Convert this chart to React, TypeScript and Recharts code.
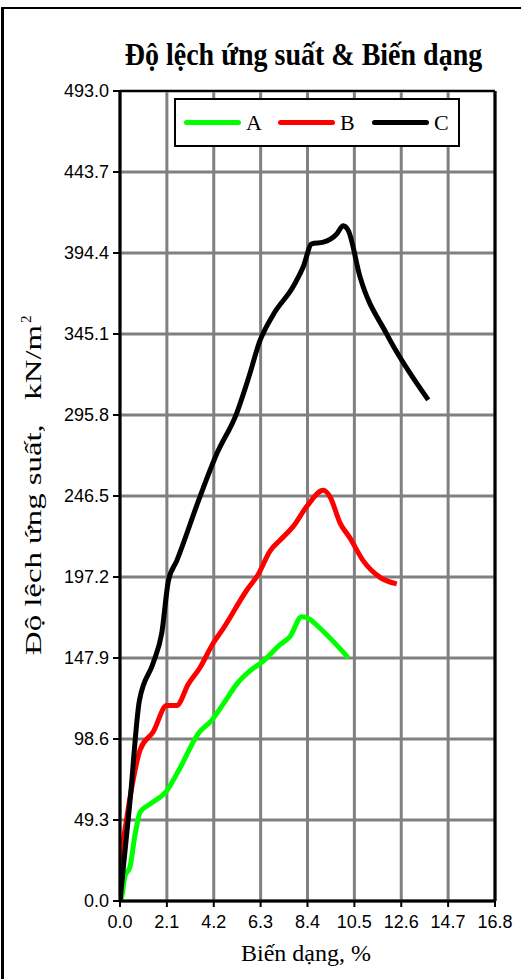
import {
  LineChart,
  Line,
  XAxis,
  YAxis,
  CartesianGrid,
  Legend,
  ReferenceLine,
} from "recharts";

// strain (%) and deviator stress (kN/m2)
const aX = [0, 0.07, 0.22, 0.45, 0.67, 0.9, 1.34, 2.09, 2.69, 3.51, 4.11, 4.63, 5.23, 5.82, 6.42, 7.17, 7.62, 8.14, 8.44, 8.96, 10.23];
const aY = [0, 2, 15, 21, 40, 54, 59, 67, 81, 102, 110, 120, 132, 140, 146, 156, 161, 173, 172, 166, 148];

const bX = [0, 0.05, 0.3, 0.58, 0.9, 1.49, 2.09, 2.54, 3.06, 3.58, 4.18, 4.63, 5.67, 6.2, 6.72, 7.2, 7.76, 8.36, 9.11, 9.41, 9.86, 10.3, 10.9, 11.65, 12.4];
const bY = [0, 22, 50, 73, 92, 103, 119, 119, 132, 142, 157, 166, 189, 199, 213, 220, 228, 240, 250, 246, 230, 221, 207, 197, 193];

const cX = [0, 0.45, 0.87, 1.49, 1.87, 2.17, 2.54, 3.58, 4.33, 5.23, 5.75, 6.27, 6.87, 7.76, 8.21, 8.59, 9.11, 9.71, 10.0, 10.23, 10.75, 11.95, 13.81];
const cY = [0, 61, 122, 145, 163, 195, 207, 246, 272, 297, 318, 341, 357, 374, 386, 400, 401, 406, 411, 408, 380, 345, 305];

const xTicks = [0, 2.1, 4.2, 6.3, 8.4, 10.5, 12.6, 14.7, 16.8];
const yTicks = [0, 49.3, 98.6, 147.9, 197.2, 246.5, 295.8, 345.1, 394.4, 443.7, 493.0];

const seriesNames = ["A", "B", "C"];
const seriesColors = ["#00ff00", "#ff0000", "#000000"];

const toPoints = (xs: number[], ys: number[]) => xs.map((x, i) => ({ x, y: ys[i] }));

const serif = "'Liberation Serif', 'Times New Roman', serif";
const sans = "'Liberation Sans', Arial, sans-serif";

function LegendBox() {
  return (
    <div
      style={{
        width: 274,
        height: 45,
        border: "2px solid #000",
        background: "#fff",
        display: "flex",
        alignItems: "center",
        paddingLeft: 8,
        boxSizing: "content-box",
      }}
    >
      {seriesNames.map((n, i) => (
        <div key={n} style={{ display: "flex", alignItems: "center", marginRight: i < 2 ? 16 : 0 }}>
          <div style={{ width: 57, height: 5, borderRadius: 3, background: seriesColors[i] }} />
          <span style={{ fontFamily: serif, fontSize: 22, marginLeft: 5, width: 16, lineHeight: 1 }}>{n}</span>
        </div>
      ))}
    </div>
  );
}

function YTitle() {
  return (
    <g transform="translate(41,490) rotate(-90)">
      <text
        x={0}
        y={0}
        textAnchor="middle"
        fontFamily={serif}
        fontSize={23}
        fill="#000"
        textLength={330}
        lengthAdjust="spacingAndGlyphs"
      >
        {"Độ lệch ứng suất,\u00a0\u00a0\u00a0kN/m"}
      </text>
      <text x={167} y={-10} fontFamily={serif} fontSize={15} fill="#000">
        2
      </text>
    </g>
  );
}

export default function App() {
  return (
    <div style={{ position: "absolute", left: 0, top: 0, width: 521, height: 979, background: "#fff" }}>
      <div
        style={{
          position: "absolute",
          left: 1,
          top: 7,
          width: 530,
          height: 970,
          borderLeft: "3px solid #000",
          borderTop: "2px solid #000",
          borderBottom: "1px solid #cfcfcf",
        }}
      />
      <div
        style={{
          position: "absolute",
          left: 100,
          width: 407,
          top: 37,
          textAlign: "center",
          fontFamily: serif,
          fontWeight: "bold",
          fontSize: 28,
          lineHeight: "36px",
          transform: "scaleY(1.1)",
        }}
      >
        Độ lệch ứng suất &amp; Biến dạng
      </div>
      <LineChart width={521} height={979} margin={{ top: 91, right: 26, left: 60, bottom: 38 }}>
        <CartesianGrid stroke="#808080" strokeWidth={3} />
        <XAxis
          type="number"
          dataKey="x"
          domain={[0, 16.8]}
          ticks={xTicks}
          interval={0}
          height={40}
          allowDataOverflow
          tickFormatter={(v: number) => v.toFixed(1)}
          tick={{ fill: "#000", fontFamily: sans, fontSize: 18 }}
          tickSize={6}
          tickMargin={8}
          axisLine={{ stroke: "#000", strokeWidth: 3 }}
          tickLine={{ stroke: "#000", strokeWidth: 2 }}
          label={{
            content: () => (
              <text x={306} y={961} textAnchor="middle" fontFamily={serif} fontSize={24} fill="#000">
                Biến dạng, %
              </text>
            ),
          }}
        />
        <YAxis
          type="number"
          dataKey="y"
          domain={[0, 493]}
          ticks={yTicks}
          interval={0}
          width={60}
          allowDataOverflow
          tickFormatter={(v: number) => v.toFixed(1)}
          tick={{ fill: "#000", fontFamily: sans, fontSize: 18 }}
          tickSize={7}
          tickMargin={4}
          axisLine={{ stroke: "#000", strokeWidth: 3 }}
          tickLine={{ stroke: "#000", strokeWidth: 2 }}
          label={{ content: () => <YTitle /> }}
        />
        <ReferenceLine x={16.8} stroke="#000" strokeWidth={3} />
        <ReferenceLine y={493} stroke="#000" strokeWidth={2} />
        <Legend
          layout="horizontal"
          verticalAlign="middle"
          wrapperStyle={{ top: 98, left: 174, width: 280 }}
          content={() => <LegendBox />}
        />
        <Line data={toPoints(aX, aY)} dataKey="y" name="A" type="monotone" stroke={seriesColors[0]} strokeWidth={5} dot={false} isAnimationActive={false} />
        <Line data={toPoints(bX, bY)} dataKey="y" name="B" type="monotone" stroke={seriesColors[1]} strokeWidth={5} dot={false} isAnimationActive={false} />
        <Line data={toPoints(cX, cY)} dataKey="y" name="C" type="monotone" stroke={seriesColors[2]} strokeWidth={5} dot={false} isAnimationActive={false} />
      </LineChart>
    </div>
  );
}
